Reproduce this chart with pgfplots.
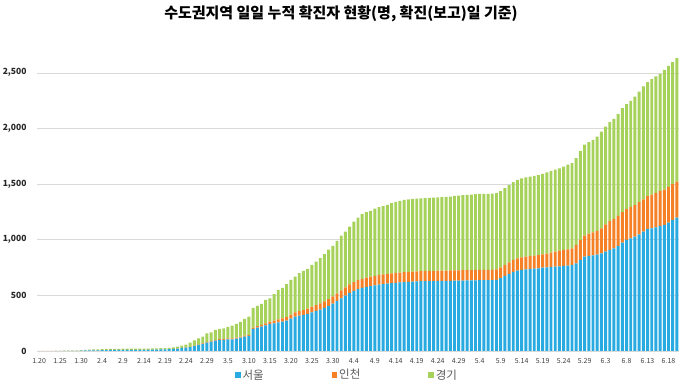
\documentclass[border=0pt]{standalone}
\usepackage{fontspec}
\setmainfont{Noto Sans CJK KR}
\usepackage{pgfplots}
\pgfplotsset{compat=1.18}
\usepackage{pgfplotstable}
\definecolor{cS}{RGB}{41,171,226}
\definecolor{cI}{RGB}{245,128,37}
\definecolor{cG}{RGB}{166,210,92}
\pgfplotstableread{
d s i g
0 0 1 0
1 0 1 0
2 0 1 0
3 0 1 0
4 1 1 0
5 1 1 0
6 1 1 1
7 1 1 2
8 1 1 2
9 1 1 2
10 3 1 3
11 5 1 5
12 5 1 6
13 6 1 7
14 6 1 7
15 7 1 8
16 8 1 9
17 9 1 10
18 9 1 10
19 9 1 10
20 10 1 10
21 10 1 10
22 10 1 11
23 10 1 11
24 10 1 11
25 10 1 11
26 10 1 11
27 12 1 11
28 12 1 11
29 14 1 11
30 14 1 11
31 16 1 12
32 18 1 13
33 22 1 16
34 27 1 20
35 30 2 25
36 35 3 37
37 45 3 47
38 55 3 55
39 63 5 61
40 75 6 78
41 84 6 78
42 93 7 89
43 99 7 92
44 99 7 98
45 105 8 103
46 105 9 114
47 111 9 123
48 120 9 132
49 129 9 150
50 135 10 164
51 198 12 177
52 210 14 181
53 219 16 188
54 231 18 210
55 243 20 211
56 249 23 238
57 258 26 265
58 264 29 274
59 273 32 295
60 291 35 313
61 309 38 322
62 318 41 340
63 324 44 352
64 333 47 358
65 348 50 376
66 360 53 391
67 372 56 406
68 387 59 425
69 405 62 443
70 426 65 453
71 450 68 471
72 474 71 492
73 498 74 501
74 522 77 519
75 540 79 544
76 556 81 562
77 567 82 580
78 576 83 588
79 584 84 591
80 590 85 605
81 597 86 609
82 601 87 613
83 606 87 620
84 610 88 630
85 613 88 639
86 616 89 644
87 619 89 650
88 622 90 651
89 624 90 652
90 626 90 653
91 627 91 654
92 628 91 655
93 629 91 656
94 629 92 657
95 630 92 658
96 630 92 660
97 631 92 662
98 631 93 664
99 632 93 669
100 632 93 672
101 633 93 674
102 634 93 676
103 634 93 679
104 635 93 681
105 636 93 682
106 636 93 683
107 637 93 683
108 637 93 684
109 640 94 684
110 655 96 686
111 675 99 690
112 692 104 695
113 710 108 700
114 722 111 705
115 728 114 710
116 734 115 712
117 737 116 715
118 740 117 717
119 743 118 720
120 749 120 722
121 752 124 730
122 755 128 735
123 758 134 738
124 761 140 740
125 764 144 750
126 768 146 760
127 773 150 765
128 788 165 780
129 818 180 800
130 848 189 818
131 855 200 822
132 860 205 832
133 865 215 847
134 878 225 869
135 893 245 879
136 908 258 890
137 923 265 898
138 944 270 914
139 974 273 935
140 998 277 943
141 1013 282 953
142 1028 285 974
143 1049 288 995
144 1073 290 1014
145 1097 295 1024
146 1103 303 1037
147 1112 310 1045
148 1124 315 1052
149 1133 318 1076
150 1154 320 1089
151 1178 322 1096
152 1199 324 1109
}\datatable
\pgfplotsset{mylegend/.style={legend image code/.code={\fill[##1] (0pt,-2.7pt) rectangle (5.4pt,2.7pt);}}}
\begin{document}
\begin{tikzpicture}
\useasboundingbox (0,0) rectangle (680pt,387pt);
\begin{axis}[
  at={(37pt,36pt)}, anchor=south west,
  scale only axis, width=642pt, height=306pt,
  xmin=-0.5, xmax=152.5, ymin=0, ymax=2750,
  ybar stacked, bar width=0.7,
  axis line style={draw=none},
  major tick length=0pt,
  ymajorgrids, grid style={draw=black!15, line width=0.6pt},
  ytick={0,500,1000,1500,2000,2500},
  /pgf/number format/1000 sep={,},
  /pgf/number format/assume math mode=true,
  yticklabel style={font=\fontsize{8.5}{10}\selectfont\bfseries, text=black!85, xshift=-7pt},
  xtick={0,5,...,150},
  xticklabels={1.20,1.25,1.30,2.4,2.9,2.14,2.19,2.24,2.29,3.5,3.10,3.15,3.20,3.25,3.30,4.4,4.9,4.14,4.19,4.24,4.29,5.4,5.9,5.14,5.19,5.24,5.29,6.3,6.8,6.13,6.18},
  xticklabel style={font=\fontsize{7}{8}\selectfont, text=black!75, yshift=-4pt},
  legend columns=3,
  legend style={draw=none, fill=none, at={(0.483,0)}, anchor=center, yshift=-24pt,
    font=\fontsize{11.5}{13}\selectfont, text=black!65,
    /tikz/every even column/.append style={column sep=66pt}},
]
\addplot[fill=cS, draw=none, mylegend] table[x=d,y=s]{\datatable};
\addplot[fill=cI, draw=none, mylegend] table[x=d,y=i]{\datatable};
\addplot[fill=cG, draw=none, mylegend] table[x=d,y=g]{\datatable};
\legend{서울,인천,경기}
\end{axis}
\node[font=\fontsize{15}{18}\selectfont\bfseries] at (341pt,373pt) {수도권지역 일일 누적 확진자 현황(명, 확진(보고)일 기준)};
\end{tikzpicture}
\end{document}
